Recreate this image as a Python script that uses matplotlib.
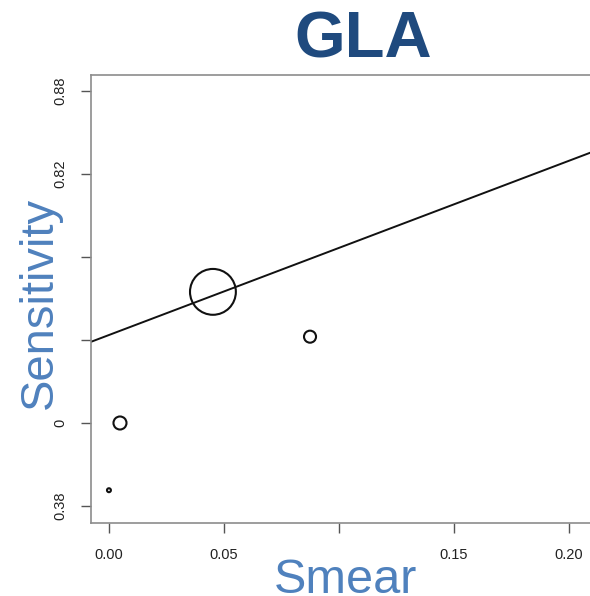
import matplotlib
matplotlib.use("Agg")
import matplotlib.pyplot as plt

# Data
smear = [0.0, 0.0048, 0.0452, 0.0874]
sensitivity = [0.399, 0.480, 0.638, 0.584]
weights = [8, 88, 1090, 75]          # marker areas (study weights)
reg_intercept = 0.586
reg_slope = 1.05

x_ticks = [0.00, 0.05, 0.10, 0.15, 0.20]
x_tick_labels = ["0.00", "0.05", "", "0.15", "0.20"]
y_ticks = [0.38, 0.48, 0.58, 0.68, 0.78, 0.88]
y_tick_labels = ["0.38", "0", "", "", "0.82", "0.88"]

plt.rcParams['font.family'] = ['Liberation Sans', 'DejaVu Sans']

fig = plt.figure(figsize=(5.90, 5.96), dpi=100)
ax = fig.add_axes([91/590, 1-523/596, 1-91/590, (523-75)/596])

ax.scatter(smear, sensitivity, s=weights, facecolors='none',
           edgecolors='#111111', linewidths=1.5, zorder=3, clip_on=False)
ax.axline((0, reg_intercept), slope=reg_slope, color='#111111', lw=1.4, zorder=2)

ax.set_xlim(-0.0078, 0.2091)
ax.set_ylim(0.3595, 0.8993)

ax.set_xticks(x_ticks)
ax.set_xticklabels(x_tick_labels)
ax.set_yticks(y_ticks)
ax.set_yticklabels(y_tick_labels, rotation=90, va='center')

for s in ['left', 'bottom', 'top']:
    ax.spines[s].set_color('#8c8c8c')
    ax.spines[s].set_linewidth(1.2)
ax.spines['right'].set_visible(False)
ax.tick_params(axis='both', colors='#555555', length=7, width=1.0,
               labelsize=10.5, labelcolor='#222222')
ax.tick_params(axis='x', pad=11)
ax.tick_params(axis='y', pad=10)

fig.text(363/590, 1-40/596, "GLA", ha='center', va='center',
         fontsize=47, fontweight='bold', color='#1F4A7E')
fig.text(40/590, 1-303/596, "Sensitivity", ha='center', va='center',
         rotation=90, fontsize=34, color='#4F81BD')
fig.text(345/590, 1-593/596, "Smear", ha='center', va='baseline',
         fontsize=35, color='#4F81BD')

fig.savefig("out.png", dpi=100)
